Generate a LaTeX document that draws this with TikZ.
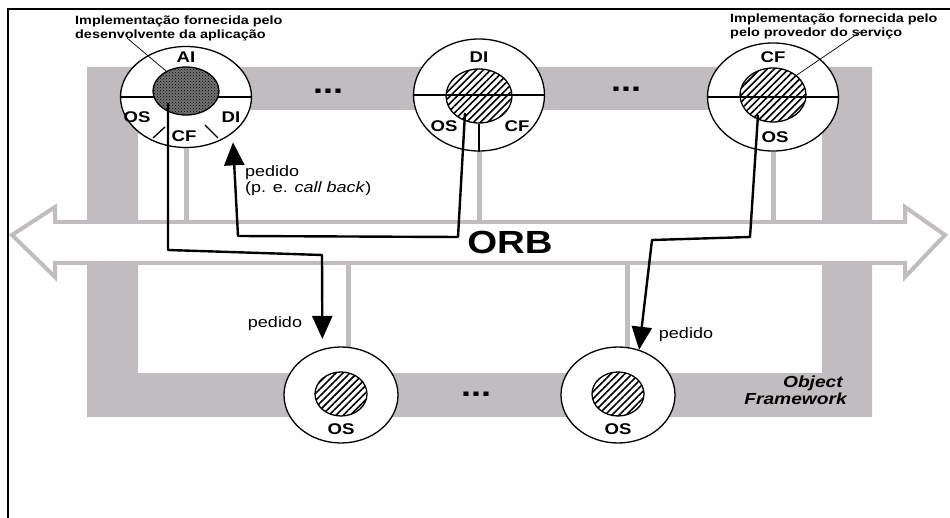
\documentclass[tikz,border=0pt]{standalone}
\usepackage{fontspec}
\setmainfont{Liberation Sans}[FakeStretch=1.2]
\usetikzlibrary{arrows.meta, positioning, shapes.geometric, patterns, patterns.meta}
\definecolor{fwgray}{RGB}{192,188,192}
\tikzset{
  comp/.style={
    draw,
    ellipse,
    line width=1.3pt,
    fill=white,
    minimum width=131pt,
    minimum height=106pt,
    inner sep=0pt
  },
  impl/.style={
    draw,
    ellipse,
    line width=1.3pt,
    minimum width=66pt,
    minimum height=54pt,
    inner sep=0pt,
    pattern={Lines[angle=45,distance=5pt,line width=1.6pt]}
  },
  appimpl/.style={
    impl,
    minimum height=48pt,
    preaction={fill=black!55},
    pattern=crosshatch dots
  },
  svc/.style={
    comp,
    minimum width=114pt,
    minimum height=96pt
  },
  svcimpl/.style={
    impl,
    minimum width=52pt,
    minimum height=44pt
  },
  tag/.style={
    font=\bfseries\fontsize{15.5}{17}\selectfont,
    inner sep=0pt
  },
  note/.style={
    font=\bfseries\fontsize{12}{14}\selectfont,
    align=left,
    inner sep=0pt
  },
  reqtext/.style={
    font=\fontsize{15}{16}\selectfont,
    align=left,
    inner sep=0pt
  },
  fwtext/.style={
    font=\bfseries\itshape\fontsize{16}{16}\selectfont,
    inner sep=0pt
  },
  dots/.style={
    font=\bfseries\fontsize{30}{30}\selectfont,
    inner sep=0pt
  },
  req/.style={
    -{Triangle[length=23pt,width=20pt]},
    line width=2.4pt,
    line join=round
  },
  link/.style={
    fwgray,
    line width=5pt
  },
  leader/.style={
    line width=0.7pt
  }
}

\begin{document}
\begin{tikzpicture}[x=1pt, y=-1pt]
  \useasboundingbox (0,0) rectangle (950,518);
  \draw[line width=2pt] (950,9) -- (8,9) -- (8,518);

  % object framework
  \fill[fwgray, even odd rule] (87,67) rectangle (872,417) (138,110) rectangle (822,373);
  \coordinate (orbN) at (0,222);
  \draw[link] (348,263) -- (348,373);
  \draw[link] (627,263) -- (627,373);

  % ORB
  \draw[fwgray, line width=4pt, fill=white]
    (55,222) -- (905,222) -- (905,207) -- (945,235) -- (905,277) -- (905,263)
    -- (55,263) -- (55,277) -- (12,235) -- (55,207) -- cycle;
  \node[font=\bfseries\fontsize{32}{32}\selectfont, inner sep=0pt] (orb) at (510,242) {ORB};

  % application object
  \node[comp, minimum height=101pt] (ai) at (186,97) {};
  \draw[link] (ai.south) -- (ai.south |- orbN);
  \draw[line width=1.3pt] (ai.west) -- (ai.east);
  \draw[line width=1.3pt] (153,138) -- (165,127);
  \draw[line width=1.3pt] (205,125) -- (218,138);
  \node[appimpl] (aiin) at (186,91) {};
  \node[tag] (taga) at (186,57) {AI};
  \node[tag] (tagaos) at (137,117) {OS};
  \node[tag] (tagadi) at (231,117) {DI};
  \node[tag] (tagacf) at (184,136) {CF};

  % domain object
  \node[comp, minimum height=112pt] (di) at (479,95) {};
  \draw[link] (di.south) -- (di.south |- orbN);
  \draw[line width=1.3pt] (di.west) -- (di.east);
  \node[impl] (diin) at (479,96) {};
  \draw[line width=1.3pt] (diin.south) -- (di.south);
  \node[tag] (tagd) at (479,57) {DI};
  \node[tag] (tagdos) at (444,126) {OS};
  \node[tag] (tagdcf) at (517,126) {CF};

  % common facility
  \node[comp, minimum height=108pt] (cf) at (773,97) {};
  \draw[link] (cf.south) -- (cf.south |- orbN);
  \draw[line width=1.3pt] (cf.west) -- (cf.east);
  \node[impl] (cfin) at (773,95) {};
  \node[tag] (tagc) at (773,57) {CF};
  \node[tag] (tagcos) at (775,137) {OS};

  % object services
  \node[svc] (os1) at (341,395) {};
  \node[svcimpl] (os1in) at (341,394) {};
  \node[tag] (tagos1) at (341,429) {OS};
  \node[svc] (os2) at (618,395) {};
  \node[svcimpl] (os2in) at (618,394) {};
  \node[tag] (tagos2) at (618,429) {OS};

  \node[dots] (dots1) at (328,91) {...};
  \node[dots] (dots2) at (626,89) {...};
  \node[dots] (dots3) at (476,394) {...};

  % notes
  \node[note, anchor=north west] (noteai) at (75,16) {Implementação fornecida pelo\\desenvolvente da aplicação};
  \node[note, anchor=north west] (notecf) at (730,14) {Implementação fornecida pelo\\pelo provedor do serviço};
  \coordinate (lai) at (127,38);
  \coordinate (lcf) at (860,32);
  \draw[leader] (lai) -- (aiin.135);
  \draw[leader] (lcf) -- (cfin.40);

  \node[fwtext, anchor=base east] (fw1) at (843,387) {Object};
  \node[fwtext, anchor=base east] (fw2) at (847,404) {Framework};

  % requests
  \coordinate (aistart) at (168,103);
  \coordinate (distart) at (465,113);
  \coordinate (cfstart) at (758,115);
  \draw[req, shorten >=10pt] (aistart) -- (168,250) -- (322,255) -- (os1.112);
  \draw[req, shorten >=9pt] (distart) -- (458,237) -- (238,236) -- (ai.-38);
  \draw[req] (cfstart) -- (750,237) -- (652,240) -- (os2.65);

  \node[reqtext] (ped1) at (275,324) {pedido};
  \node[reqtext, anchor=north west] (ped2) at (245,165) {pedido\\(p. e. \textit{call back})};
  \node[reqtext] (ped3) at (686,335) {pedido};
\end{tikzpicture}
\end{document}
